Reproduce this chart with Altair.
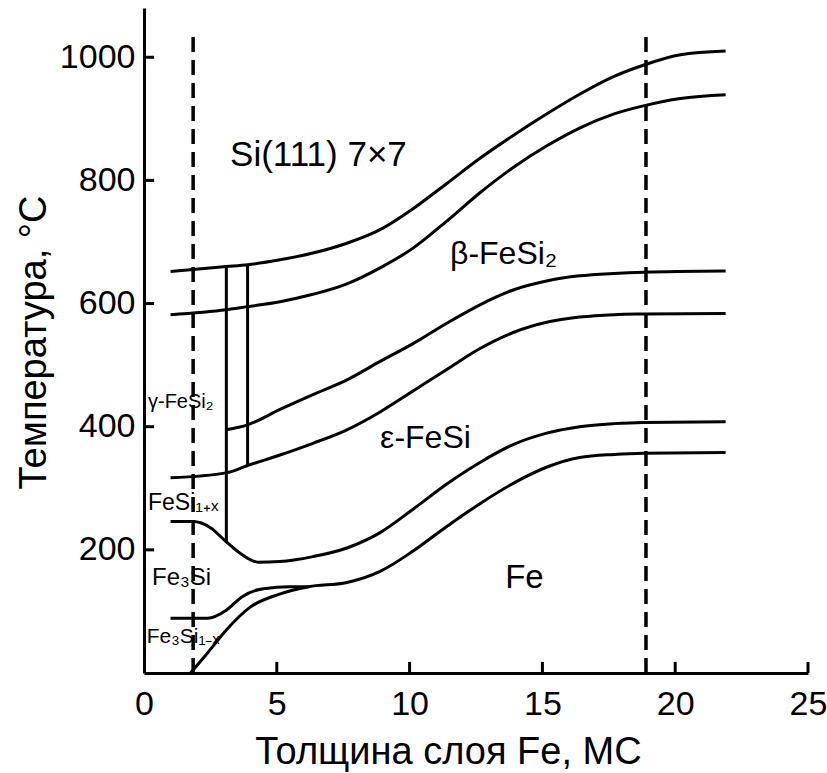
import altair as alt
import pandas as pd

X_TITLE = "Толщина слоя Fe, МС"
Y_TITLE = "Температура, °C"
X_TICKS = [0, 5, 10, 15, 20, 25]
Y_TICKS = [200, 400, 600, 800, 1000]

# phase boundary curves (x = Fe thickness, ML; y = temperature, °C)
A_x = [1.0, 3.1, 3.9, 5.12, 6.36, 7.64, 8.89, 10.13, 11.4, 12.65, 13.9, 15.2, 16.4, 17.7, 18.8, 20.2, 21.9]
A_y = [652, 660, 663, 671, 682, 698, 720, 754, 795, 836, 873, 909, 940, 969, 987, 1004, 1010]

B_x = [1.0, 3.1, 3.9, 5.12, 6.36, 7.64, 8.89, 10.13, 11.4, 12.65, 13.9, 15.2, 16.4, 17.7, 18.8, 20.2, 21.9]
B_y = [582, 590, 595, 603, 615, 632, 658, 690, 734, 780, 821, 857, 885, 908, 921, 933, 939]

C_x = [3.1, 3.9, 5.12, 6.36, 7.64, 8.89, 10.13, 11.4, 12.65, 13.9, 15.2, 16.4, 17.7, 18.8, 21.9]
C_y = [395, 403, 428, 452, 476, 506, 535, 568, 598, 622, 637, 645, 649, 651, 653]

D_x = [1.0, 3.1, 3.9, 5.12, 6.36, 7.64, 8.89, 10.13, 11.4, 12.65, 13.9, 15.2, 16.4, 17.7, 18.8, 21.9]
D_y = [317, 325, 337, 354, 373, 395, 424, 458, 493, 527, 553, 570, 578, 582, 583, 584]

E_x = [1.0, 1.85, 2.5, 3.1, 3.7, 4.3, 5.12, 6.36, 7.64, 8.89, 10.13, 11.4, 12.65, 13.9, 15.2, 16.4, 17.7, 18.8, 21.9]
E_y = [246, 246, 236, 213, 192, 180, 181, 189, 203, 228, 266, 307, 342, 371, 390, 400, 405, 407, 408]

F_x = [1.75, 2.4, 3.1, 4.0, 5.1, 6.2, 7.64, 8.89, 10.13, 11.4, 12.65, 13.9, 15.2, 16.4, 17.7, 18.8, 21.9]
F_y = [0, 33, 70, 107, 128, 140, 147, 165, 198, 238, 275, 308, 335, 350, 355, 357, 358]

G_x = [1.0, 2.4, 3.1, 3.7, 4.5, 5.5, 6.2]
G_y = [89, 89, 102, 124, 137, 140, 140]

# vertical solid boundaries
V_x = [3.1, 3.9]
V_y1 = [660, 663]
V_y2 = [213, 337]

# dashed vertical lines
DASH_x = [1.85, 18.9]
DASH_top = [1045, 1045]

# inward tick marks (length in data units)
X_TICK_LEN = 18
Y_TICK_LEN = 0.38

# region labels
LABELS = ["Si(111) 7×7", "β-FeSi₂", "ε-FeSi", "Fe", "γ-FeSi₂", "FeSi₁₊ₓ", "Fe₃Si", "Fe₃Si₁₋ₓ"]
LABEL_X = [3.24, 11.52, 8.89, 13.6, 0.15, 0.15, 0.3, 0.1]
LABEL_Y = [824, 665, 366, 138, 431, 265, 143, 49]
LABEL_SIZE = [35, 32, 32, 33, 20, 23, 24, 21]

FONT = "Liberation Sans"

curves = {"A": (A_x, A_y), "B": (B_x, B_y), "C": (C_x, C_y), "D": (D_x, D_y),
          "E": (E_x, E_y), "F": (F_x, F_y), "G": (G_x, G_y)}
rows = []
for name, (xs, ys) in curves.items():
    for i, (xv, yv) in enumerate(zip(xs, ys)):
        rows.append({"curve": name, "x": xv, "y": yv, "order": i})
curve_df = pd.DataFrame(rows)

vdf = pd.DataFrame({"x": V_x, "y": V_y1, "y2": V_y2})
ddf = pd.DataFrame({"x": DASH_x, "y": [0, 0], "y2": DASH_top})
ldf = pd.DataFrame({"text": LABELS, "x": LABEL_X, "y": LABEL_Y, "size": LABEL_SIZE})
xt = pd.DataFrame({"x": X_TICKS[1:], "y": [0] * 5, "y2": [X_TICK_LEN] * 5})
yt = pd.DataFrame({"y": Y_TICKS, "x": [0] * 5, "x2": [Y_TICK_LEN] * 5})

W, H = 664, 665
xscale = alt.Scale(domain=[0, 25], nice=False, zero=False)
yscale = alt.Scale(domain=[0, 1080], nice=False, zero=False)

x_axis = alt.Axis(values=X_TICKS, format="d", title=X_TITLE, grid=False, ticks=False,
                  domainColor="black", domainWidth=3, labelFont=FONT, labelFontSize=34,
                  labelColor="black", labelPadding=14, labelFlush=False, labelOverlap=False,
                  labelBound=False, titleFont=FONT, titleFontSize=38, titleFontWeight="normal",
                  titleColor="black", titleX=304, titleY=90, titleBaseline="alphabetic",
                  titleAlign="center")
y_axis = alt.Axis(values=Y_TICKS, format="d", title=Y_TITLE, grid=False, ticks=False,
                  domainColor="black", domainWidth=3, labelFont=FONT, labelFontSize=34,
                  labelColor="black", labelPadding=9, labelOverlap=False, labelFlush=False,
                  titleFont=FONT, titleFontSize=38, titleFontWeight="normal", titleColor="black",
                  titleX=-99, titleY=334, titleAngle=270, titleBaseline="alphabetic",
                  titleAlign="center")

lines = alt.Chart(curve_df).mark_line(color="black", strokeWidth=3, interpolate="monotone").encode(
    x=alt.X("x:Q", scale=xscale, axis=x_axis),
    y=alt.Y("y:Q", scale=yscale, axis=y_axis),
    detail="curve:N",
    order="order:Q",
)

vlines = alt.Chart(vdf).mark_rule(color="black", strokeWidth=3).encode(
    x=alt.X("x:Q", scale=xscale), y=alt.Y("y:Q", scale=yscale), y2="y2:Q")

dashed = alt.Chart(ddf).mark_rule(color="black", strokeWidth=3.5, strokeDash=[15, 8]).encode(
    x=alt.X("x:Q", scale=xscale), y=alt.Y("y:Q", scale=yscale), y2="y2:Q")

xticks = alt.Chart(xt).mark_rule(color="black", strokeWidth=3).encode(
    x=alt.X("x:Q", scale=xscale), y=alt.Y("y:Q", scale=yscale), y2="y2:Q")
yticks = alt.Chart(yt).mark_rule(color="black", strokeWidth=3).encode(
    y=alt.Y("y:Q", scale=yscale), x=alt.X("x:Q", scale=xscale), x2="x2:Q")

labels = alt.Chart(ldf).mark_text(align="left", baseline="alphabetic", font=FONT, color="black").encode(
    x=alt.X("x:Q", scale=xscale), y=alt.Y("y:Q", scale=yscale),
    text="text:N", size=alt.Size("size:Q", scale=None))

chart = alt.layer(dashed, lines, vlines, xticks, yticks, labels).properties(
    width=W, height=H,
    autosize=alt.AutoSizeParams(type="none"),
    padding={"left": 144, "top": 8, "right": 19, "bottom": 100},
    background="white",
).configure_view(stroke=None)

chart.save("out.html", embed_options={"renderer": "svg", "actions": False})
